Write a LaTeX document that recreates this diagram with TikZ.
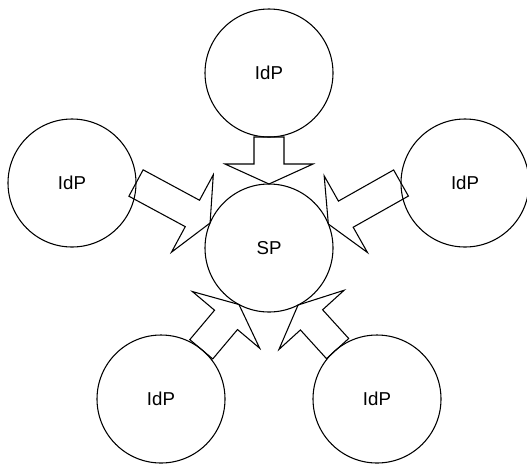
\documentclass[tikz,border=0pt]{standalone}
\usepackage{fontspec}
\setmainfont{Liberation Sans}
\usetikzlibrary{calc}
\begin{document}
\begin{tikzpicture}[x=0.75pt,y=-0.75pt,
  party/.style={circle,draw,line width=0.8pt,minimum size=96pt,inner sep=0pt,outer sep=0pt,
    font=\fontsize{14pt}{16pt}\selectfont},
  blockarrow/.style={line width=0.8pt,line join=miter,to path={
    let \p1=(\tikztostart), \p2=(\tikztotarget),
        \n1={atan2(\y2-\y1,\x2-\x1)},
        \n2={veclen(\x2-\x1,\y2-\y1)-15pt} in
    ($(\p1)+(\n1+90:11.25pt)$)
    -- ($(\p1)+(\n1:\n2)+(\n1+90:11.25pt)$)
    -- ($(\p1)+(\n1:\n2)+(\n1+90:33pt)$)
    -- (\p2)
    -- ($(\p1)+(\n1:\n2)+(\n1-90:33pt)$)
    -- ($(\p1)+(\n1:\n2)+(\n1-90:11.25pt)$)
    -- ($(\p1)+(\n1-90:11.25pt)$)
    -- cycle}}]
\useasboundingbox (0,0) rectangle (527,465);
\node[party] (SP) at (269,248) {SP};
\node[party] (T)  at (269,73)  {IdP};
\node[party] (L)  at (72,183)  {IdP};
\node[party] (R)  at (465,183) {IdP};
\node[party] (BL) at (161,399) {IdP};
\node[party] (BR) at (377,399) {IdP};
\draw[blockarrow] (T.south) to (SP.90);
\draw[blockarrow] (L.east) to (SP.157.6);
\draw[blockarrow] (R.west) to (SP.22.4);
\draw[blockarrow] (BL.51.3) to (SP.242.2);
\draw[blockarrow] (BR.128.7) to (SP.297.8);
\end{tikzpicture}
\end{document}
